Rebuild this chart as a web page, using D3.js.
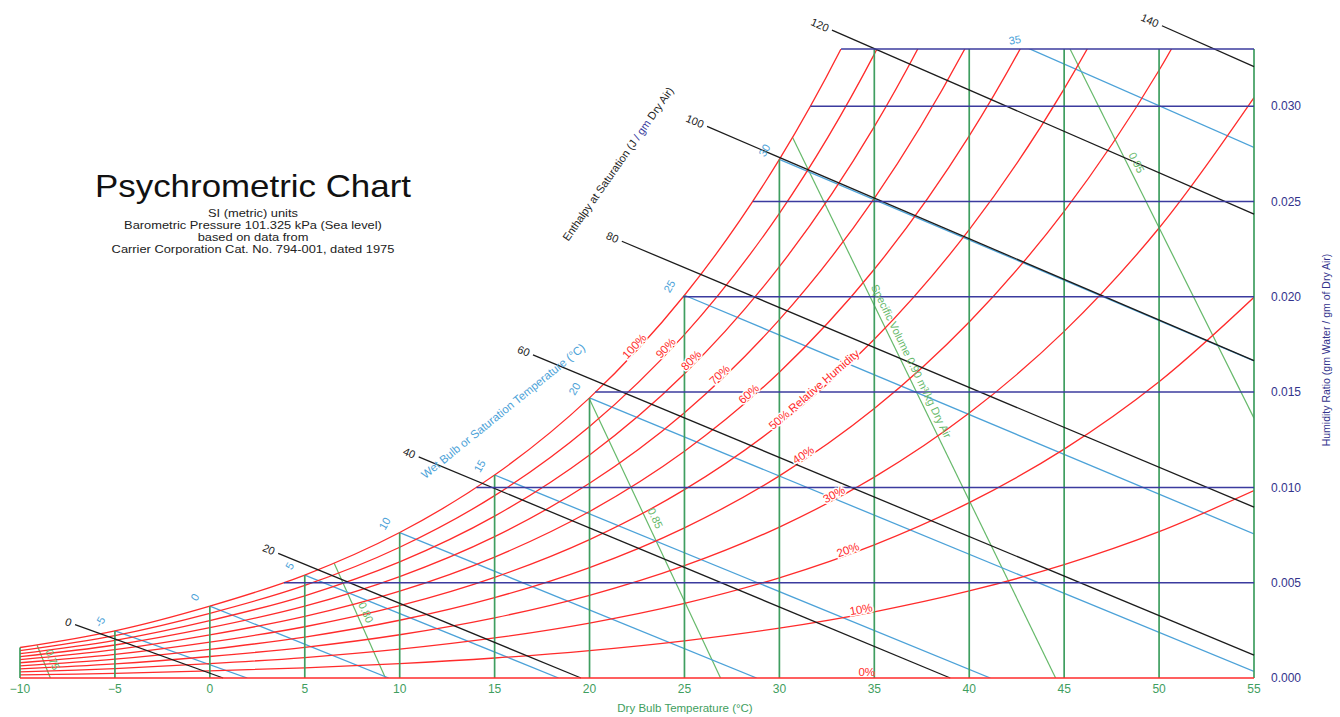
<!DOCTYPE html>
<html>
<head>
<meta charset="utf-8">
<script src="https://cdn.jsdelivr.net/npm/d3@7"></script>
<style>
  html, body { margin: 0; padding: 0; background: #fff; }
  svg { display: block; font-family: "Liberation Sans", Arial, Helvetica, sans-serif; }
</style>
</head>
<body>
<svg id="chart" width="1340" height="717"></svg>
<script>
// ---- Chart data -------------------------------------------------------
// Dry-bulb grid, °C
const dryBulbTicks = [-10, -5, 0, 5, 10, 15, 20, 25, 30, 35, 40, 45, 50, 55];
// Saturation vapour pressure at each dry-bulb tick, kPa (over ice below 0 °C)
const satPressure = [0.2600, 0.4018, 0.6112, 0.8725, 1.2281, 1.7056, 2.3389, 3.1690, 4.2467, 5.6286, 7.3844, 9.5944, 12.352, 15.763];
const baroPressure = 101.325;

// Relative humidity curves and where their labels sit (dry-bulb °C)
const rhLevels = [0.1, 0.2, 0.3, 0.4, 0.5, 0.6, 0.7, 0.8, 0.9, 1.0];
const rhLabelTemps = [34.35, 33.7, 33.0, 31.4, 32.0, 28.56, 27.03, 25.53, 24.2, 22.55];
const rhZeroLabelTemp = 34.6;

// Humidity ratio axis and constant-humidity lines (start at the dew point)
const humidityTicks = [0.000, 0.005, 0.010, 0.015, 0.020, 0.025, 0.030];
const humidityLines = [0.005, 0.010, 0.015, 0.020, 0.025, 0.030, 0.033];
const humidityLineStartT = [3.9, 14.04, 20.3, 24.93, 28.6, 31.63, 33.25];

// Wet-bulb lines: from saturation at the wet-bulb temperature to their far end
const wetBulbTemps = [-5, 0, 5, 10, 15, 20, 25, 30, 35];
const wetBulbEndT = [1.97, 9.42, 18.37, 28.80, 41.11, 55, 55, 55, 55];
const wetBulbEndW = [0, 0, 0, 0, 0, 0.00034, 0.00756, 0.01664, 0.02784];

// Enthalpy at saturation lines (J / gm dry air)
const enthalpyLevels = [0, 20, 40, 60, 80, 100, 120, 140];
const enthalpySatT = [-5.75, 5.70, 14.26, 20.74, 25.86, 30.05, 33.57, 36.6];
const enthalpySatW = [0.00232, 0.00568, 0.01025, 0.01541, 0.02117, 0.02729, 0.03364, 0.0402];
const enthalpyEndT = [0.7, 19.55, 39.0, 55, 55, 55, 55, 55];
const enthalpyEndW = [0, 0, 0, 0.0012, 0.00896, 0.01665, 0.02434, 0.03208];
const enthalpyStartT = [-7.1, 3.6, 11.0, 17.02, 21.7, 26.19, 32.77, 50.15];

// Specific volume lines (m³/kg dry air)
const volumeLevels = [0.75, 0.80, 0.85, 0.90, 0.95];
const volumeLabels = ["0.75", "0.80", "0.85", "Specific Volume 0.90 m³/kg Dry Air", "0.95"];
const volumeTopT = [-9.1, 6.55, 19.97, 30.69, 45.31];
const volumeTopW = [0.00172, 0.00602, 0.01469, 0.02837, 0.033];
const volumeEndT = [-8.4, 9.25, 26.9, 44.55, 55];
const volumeEndW = [0, 0, 0, 0, 0.01363];
const volumeLabelW = [0.000787, 0.00325, 0.00818, 0.01642, 0.02683];

const titleLines = ["SI (metric) units",
  "Barometric Pressure 101.325 kPa (Sea level)",
  "based on data from",
  "Carrier Corporation Cat. No. 794-001, dated 1975"];

// ---- Helpers ----------------------------------------------------------
const humidityRatio = pv => 0.62198 * pv / (baroPressure - pv);
const satW = satPressure.map(humidityRatio);

// saturation pressure between grid points (log-linear), used for label placement
function satPressureAt(t) {
  let i = Math.max(0, Math.min(dryBulbTicks.length - 2, Math.floor((t - dryBulbTicks[0]) / 5)));
  const f = (t - dryBulbTicks[i]) / (dryBulbTicks[i + 1] - dryBulbTicks[i]);
  return Math.exp(Math.log(satPressure[i]) + f * (Math.log(satPressure[i + 1]) - Math.log(satPressure[i])));
}
const rhW = (phi, t) => humidityRatio(phi * satPressureAt(t));

// ---- Scales -----------------------------------------------------------
const x = d3.scaleLinear().domain([-10, 55]).range([20, 1254]);
const y = d3.scaleLinear().domain([0, 0.033]).range([678, 49]);

const C = {
  red: "#ff2b2b", grid: "#3f9e60", vol: "#66b96a", wb: "#4ca2d8",
  navy: "#3b3b9e", black: "#1c1c1c", tick: "#3f9e60", navyText: "#33338c"
};

const svg = d3.select("#chart");
svg.append("rect").attr("width", 1340).attr("height", 717).attr("fill", "#fff");

svg.append("defs").append("clipPath").attr("id", "plot")
  .append("rect").attr("x", x(-10)).attr("y", y(0.033))
  .attr("width", x(55) - x(-10)).attr("height", y(0) - y(0.033));

const plot = svg.append("g").attr("clip-path", "url(#plot)");
const lineXY = d3.line().x(d => x(d[0])).y(d => y(d[1]));

// ---- Dry-bulb verticals ------------------------------------------------
svg.append("g").selectAll("line").data(dryBulbTicks).join("line")
  .attr("x1", d => x(d)).attr("x2", d => x(d))
  .attr("y1", y(0)).attr("y2", (d, i) => y(Math.min(satW[i], 0.033)))
  .attr("stroke", C.grid).attr("stroke-width", 1.7);

// ---- Specific volume lines ----------------------------------------------
plot.append("g").selectAll("path").data(volumeLevels).join("path")
  .attr("d", (d, i) => lineXY([[volumeTopT[i], volumeTopW[i]], [volumeEndT[i], volumeEndW[i]]]))
  .attr("fill", "none").attr("stroke", C.vol).attr("stroke-width", 1.2);

// ---- Wet-bulb lines ------------------------------------------------------
const wbStart = wetBulbTemps.map(t => satW[dryBulbTicks.indexOf(t)]);
plot.append("g").selectAll("path").data(wetBulbTemps).join("path")
  .attr("d", (d, i) => lineXY([[d, wbStart[i]], [wetBulbEndT[i], wetBulbEndW[i]]]))
  .attr("fill", "none").attr("stroke", C.wb).attr("stroke-width", 1.3);

// ---- Enthalpy lines ------------------------------------------------------
const enthalpyStartW = enthalpyLevels.map((h, i) => {
  const slope = (enthalpyEndW[i] - enthalpySatW[i]) / (enthalpyEndT[i] - enthalpySatT[i]);
  return enthalpySatW[i] + slope * (enthalpyStartT[i] - enthalpySatT[i]);
});
svg.append("g").selectAll("path").data(enthalpyLevels).join("path")
  .attr("d", (d, i) => lineXY([[enthalpyStartT[i], enthalpyStartW[i]], [enthalpyEndT[i], enthalpyEndW[i]]]))
  .attr("fill", "none").attr("stroke", C.black).attr("stroke-width", 1.3);

// ---- Relative humidity curves -------------------------------------------
const curve = d3.line().x(d => x(d[0])).y(d => y(d[1])).curve(d3.curveCatmullRom.alpha(0.5));
plot.append("g").selectAll("path").data(rhLevels).join("path")
  .attr("d", phi => curve(dryBulbTicks.map((t, i) => [t, humidityRatio(phi * satPressure[i])])))
  .attr("fill", "none").attr("stroke", C.red).attr("stroke-width", 1.3);
// 0 % line along the dry-air baseline
svg.append("line").attr("x1", x(-10)).attr("x2", x(55)).attr("y1", y(0)).attr("y2", y(0))
  .attr("stroke", C.red).attr("stroke-width", 1.6);

// ---- Constant humidity ratio lines ----------------------------------------
svg.append("g").selectAll("line").data(humidityLines).join("line")
  .attr("x1", (d, i) => x(humidityLineStartT[i])).attr("x2", x(55))
  .attr("y1", d => y(d)).attr("y2", d => y(d))
  .attr("stroke", C.navy).attr("stroke-width", 1.5);

// ---- Axis labels -------------------------------------------------------------
const fmtT = d => d < 0 ? "\u2212" + Math.abs(d) : String(d);
svg.append("g").selectAll("text").data(dryBulbTicks).join("text")
  .attr("x", d => x(d)).attr("y", y(0) + 15)
  .attr("text-anchor", "middle").attr("font-size", 12).attr("fill", C.tick)
  .text(fmtT);
svg.append("text").attr("x", 685).attr("y", 712).attr("text-anchor", "middle")
  .attr("font-size", 11.5).attr("fill", C.tick).text("Dry Bulb Temperature (°C)");

svg.append("g").selectAll("text").data(humidityTicks).join("text")
  .attr("x", x(55) + 17).attr("y", d => y(d)).attr("dy", "0.35em")
  .attr("font-size", 12).attr("fill", C.navyText)
  .text(d3.format(".3f"));
svg.append("text").attr("transform", "translate(1330,350) rotate(-90)")
  .attr("text-anchor", "middle").attr("font-size", 10.5).attr("fill", C.navyText)
  .text("Humidity Ratio (gm Water / gm of Dry Air)");

// ---- Relative humidity labels ---------------------------------------------
const rhG = svg.append("g");
rhLevels.forEach((phi, i) => {
  const t = rhLabelTemps[i];
  const a = [x(t - 0.3), y(rhW(phi, t - 0.3))], b = [x(t + 0.3), y(rhW(phi, t + 0.3))];
  const ang = Math.atan2(b[1] - a[1], b[0] - a[0]) * 180 / Math.PI;
  const pct = Math.round(phi * 100);
  rhG.append("text")
    .attr("transform", `translate(${x(t)},${y(rhW(phi, t))}) rotate(${ang})`)
    .attr("y", -1).attr("text-anchor", "middle").attr("font-size", 11.5)
    .attr("fill", C.red).attr("stroke", "#fff").attr("stroke-width", 3)
    .attr("paint-order", "stroke")
    .text(pct === 50 ? "50% Relative Humidity" : pct + "%");
});
rhG.append("text").attr("x", x(rhZeroLabelTemp)).attr("y", y(0) - 2)
  .attr("text-anchor", "middle").attr("font-size", 11.5).attr("fill", C.red).text("0%");

// ---- Wet-bulb labels -------------------------------------------------------
wetBulbTemps.forEach((t, i) => {
  let t0 = t, w0 = wbStart[i];
  if (w0 > 0.033) {
    const f = (w0 - 0.033) / (w0 - wetBulbEndW[i]);
    t0 = t + f * (wetBulbEndT[i] - t); w0 = 0.033;
  }
  const rot = w0 >= 0.033 ? -10 : -60;
  svg.append("text")
    .attr("transform", `translate(${x(t0) - 15},${y(w0) - 9}) rotate(${rot})`)
    .attr("text-anchor", "middle").attr("dy", "0.35em")
    .attr("font-size", 11).attr("fill", C.wb).text(String(t));
});
svg.append("text").attr("transform", "translate(503,411) rotate(-39)")
  .attr("text-anchor", "middle").attr("dy", "0.35em")
  .attr("font-size", 11.5).attr("fill", C.wb)
  .text("Wet Bulb or Saturation Temperature (°C)");

// ---- Enthalpy labels -------------------------------------------------------
enthalpyLevels.forEach((h, i) => {
  const sx = x(enthalpyStartT[i]), sy = y(enthalpyStartW[i]);
  const ex = x(enthalpyEndT[i]), ey = y(enthalpyEndW[i]);
  const len = Math.hypot(ex - sx, ey - sy);
  const ux = (ex - sx) / len, uy = (ey - sy) / len;
  const ang = Math.atan2(uy, ux) * 180 / Math.PI;
  svg.append("text")
    .attr("transform", `translate(${sx - 4 * ux},${sy - 4 * uy}) rotate(${ang})`)
    .attr("text-anchor", "end").attr("dy", "0.35em")
    .attr("font-size", 11).attr("fill", C.black).text(String(h));
});
const enthTitle = svg.append("text").attr("transform", "translate(618,164) rotate(-55)")
  .attr("text-anchor", "middle").attr("dy", "0.35em")
  .attr("font-size", 11).attr("fill", C.black);
enthTitle.append("tspan").text("Enthalpy at Saturation (J ");
enthTitle.append("tspan").attr("fill", C.navy).text("/ gm");
enthTitle.append("tspan").text(" Dry Air)");

// ---- Specific volume labels ------------------------------------------------
volumeLevels.forEach((v, i) => {
  const ax = x(volumeTopT[i]), ay = y(volumeTopW[i]);
  const bx = x(volumeEndT[i]), by = y(volumeEndW[i]);
  const f = (volumeTopW[i] - volumeLabelW[i]) / (volumeTopW[i] - volumeEndW[i]);
  const px = ax + f * (bx - ax), py = ay + f * (by - ay);
  const ang = Math.atan2(by - ay, bx - ax) * 180 / Math.PI;
  svg.append("text")
    .attr("transform", `translate(${px},${py}) rotate(${ang})`)
    .attr("y", -5).attr("text-anchor", "middle")
    .attr("font-size", 11).attr("fill", C.vol).text(volumeLabels[i]);
});

// ---- Title block (set slightly wide) -------------------------------------------
const titleG = svg.append("g").attr("transform", "translate(253,0) scale(1.09,1)");
titleG.append("text").attr("x", 0).attr("y", 197).attr("text-anchor", "middle")
  .attr("font-size", 32).attr("fill", "#111").text("Psychrometric Chart");
titleG.append("g").selectAll("text").data(titleLines).join("text")
  .attr("x", 0).attr("y", (d, i) => 217 + i * 12).attr("text-anchor", "middle")
  .attr("font-size", 11.8).attr("fill", "#222").text(d => d);
</script>
</body>
</html>
